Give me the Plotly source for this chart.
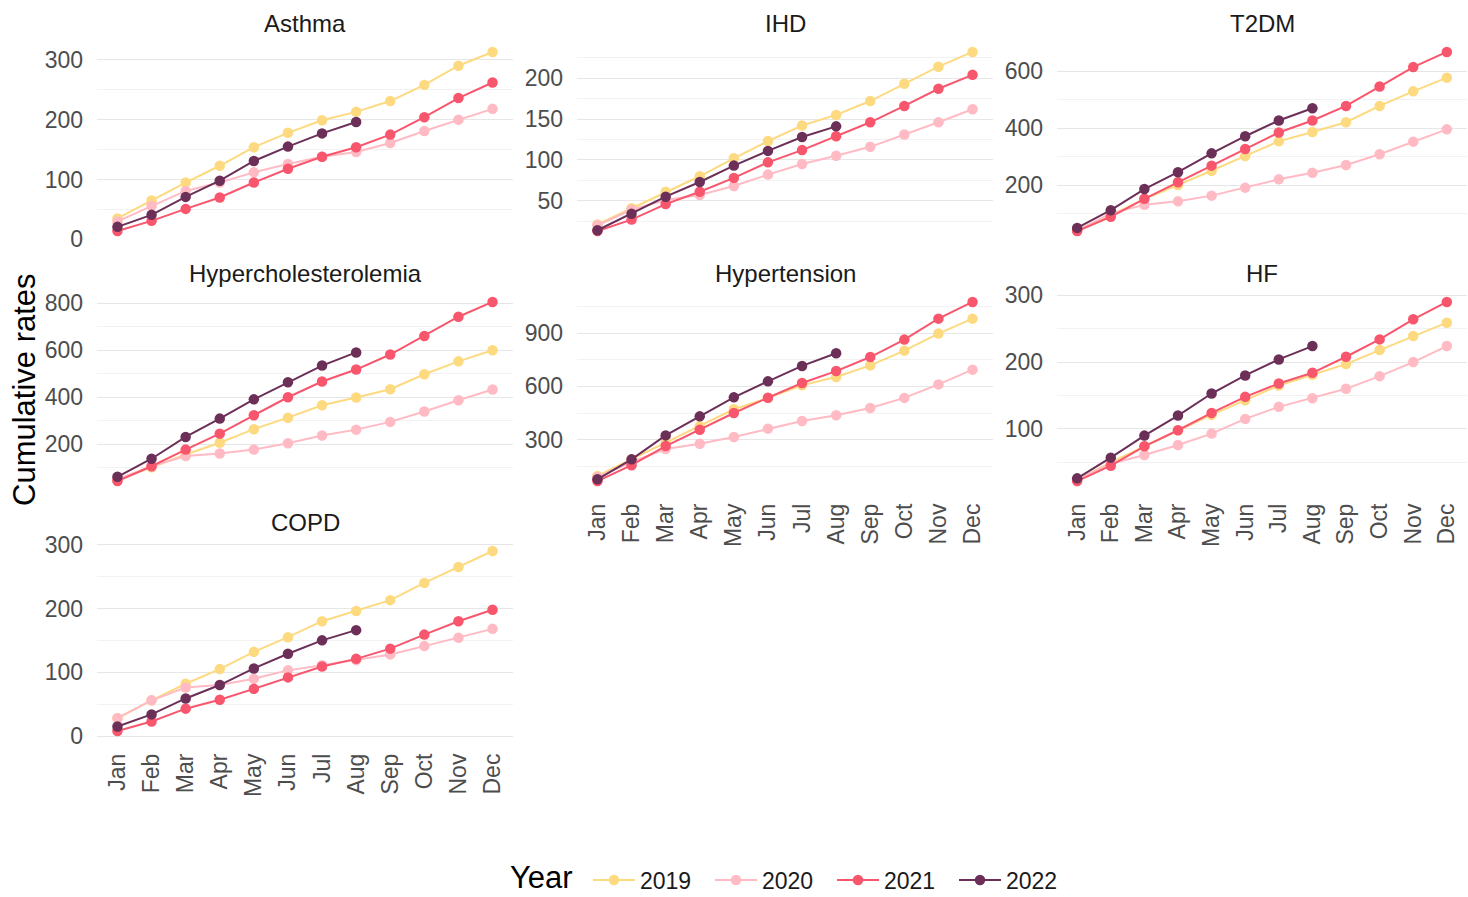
import plotly.graph_objects as go

months = ["Jan", "Feb", "Mar", "Apr", "May", "Jun", "Jul", "Aug", "Sep", "Oct", "Nov", "Dec"]
years = ["2019", "2020", "2021", "2022"]
diseases = ["Asthma", "IHD", "T2DM", "Hypercholesterolemia", "Hypertension", "HF", "COPD"]

asthma_2019 = [35, 65, 95, 123, 154, 178, 199, 213, 231, 258, 290, 313]
asthma_2020 = [30, 56, 81, 95, 112, 126, 138, 146, 161, 181, 200, 218]
asthma_2021 = [14, 31, 51, 70, 95, 118, 138, 154, 175, 204, 236, 262]
asthma_2022 = [21, 41, 71, 98, 131, 155, 177, 196]

ihd_2019 = [21, 41, 61, 80, 102, 123, 142, 155, 172, 193, 214, 232]
ihd_2020 = [20, 39, 51, 57, 68, 82, 95, 105, 116, 131, 146, 162]
ihd_2021 = [13, 27, 46, 61, 78, 97, 112, 129, 146, 166, 187, 204]
ihd_2022 = [14, 34, 55, 73, 93, 111, 128, 141]

t2dm_2019 = [43, 96, 152, 201, 251, 303, 354, 387, 421, 478, 529, 577]
t2dm_2020 = [41, 102, 132, 144, 164, 192, 221, 244, 271, 309, 353, 396]
t2dm_2021 = [40, 90, 153, 211, 269, 327, 385, 427, 478, 546, 614, 667]
t2dm_2022 = [51, 113, 187, 246, 312, 372, 427, 470]

hchol_2019 = [47, 102, 156, 206, 264, 313, 366, 399, 434, 498, 553, 600]
hchol_2020 = [51, 106, 150, 160, 177, 204, 237, 262, 295, 339, 387, 433]
hchol_2021 = [43, 106, 177, 245, 323, 400, 467, 518, 582, 661, 743, 806]
hchol_2022 = [61, 138, 231, 309, 391, 464, 535, 591]

htn_2019 = [96, 189, 281, 375, 471, 535, 606, 653, 718, 801, 897, 981]
htn_2020 = [90, 174, 247, 277, 315, 362, 405, 437, 478, 535, 611, 694]
htn_2021 = [67, 156, 264, 356, 450, 536, 619, 686, 765, 863, 981, 1075]
htn_2022 = [77, 189, 324, 431, 538, 628, 715, 786]

hf_2019 = [24, 50, 74, 98, 121, 143, 165, 181, 197, 218, 239, 259]
hf_2020 = [24, 48, 61, 76, 93, 115, 133, 146, 160, 179, 200, 224]
hf_2021 = [22, 45, 74, 98, 124, 148, 168, 184, 208, 234, 264, 290]
hf_2022 = [26, 57, 90, 120, 153, 180, 204, 224]

copd_2019 = [28, 56, 82, 105, 132, 155, 180, 196, 213, 240, 265, 290]
copd_2020 = [28, 56, 76, 80, 90, 103, 111, 119, 128, 141, 154, 168]
copd_2021 = [8, 23, 43, 57, 74, 92, 109, 121, 137, 159, 180, 198]
copd_2022 = [15, 34, 59, 80, 106, 129, 150, 166]

series = {
    "Asthma": [asthma_2019, asthma_2020, asthma_2021, asthma_2022],
    "IHD": [ihd_2019, ihd_2020, ihd_2021, ihd_2022],
    "T2DM": [t2dm_2019, t2dm_2020, t2dm_2021, t2dm_2022],
    "Hypercholesterolemia": [hchol_2019, hchol_2020, hchol_2021, hchol_2022],
    "Hypertension": [htn_2019, htn_2020, htn_2021, htn_2022],
    "HF": [hf_2019, hf_2020, hf_2021, hf_2022],
    "COPD": [copd_2019, copd_2020, copd_2021, copd_2022],
}

# ---- style ----
W, H = 1468, 897
colors = ["#FDDA80", "#FFBAC4", "#F8566D", "#6B2F58"]
dticks = {"Asthma": 100, "IHD": 50, "T2DM": 200, "Hypercholesterolemia": 200,
          "Hypertension": 300, "HF": 100, "COPD": 100}
col_px = [(97, 513), (577, 993), (1057, 1467)]
row_px = [(43, 240), (293, 490), (542, 740)]
strip_y = [23, 273, 522]
FONT = "Liberation Sans, Arial, sans-serif"
TICK_SIZE = 23

fig = go.Figure()
layout_axes = {}
annotations = []
bottom_panels = {"Hypertension", "HF", "COPD"}

for i, d in enumerate(diseases):
    r, c = divmod(i, 3)
    ax = "" if i == 0 else str(i + 1)
    x0, x1 = col_px[c]
    y0, y1 = row_px[r]
    vals = [v for s in series[d] for v in s]
    lo, hi = min(vals), max(vals)
    pad = 0.05 * (hi - lo)
    for k, yr in enumerate(years):
        ys = series[d][k]
        fig.add_trace(go.Scatter(
            x=list(range(len(ys))), y=ys, mode="lines+markers", name=yr,
            legendgroup=yr, showlegend=(i == 0),
            line=dict(color=colors[k], width=2),
            marker=dict(color=colors[k], size=10.5),
            xaxis="x" + ax, yaxis="y" + ax,
        ))
    layout_axes["xaxis" + ax] = dict(
        domain=[x0 / W, x1 / W], anchor="y" + ax, range=[-0.6, 11.6],
        tickvals=list(range(12)), ticktext=months, tickangle=-90,
        showticklabels=d in bottom_panels, showgrid=False, zeroline=False,
        showline=False, ticks="", ticklabelstandoff=8, automargin=False,
        tickfont=dict(size=TICK_SIZE, color="#4D4D4D", family=FONT),
    )
    layout_axes["yaxis" + ax] = dict(
        domain=[1 - y1 / H, 1 - y0 / H], anchor="x" + ax,
        range=[lo - pad, hi + pad], dtick=dticks[d], tick0=0,
        showgrid=True, gridcolor="#E6E6E6", gridwidth=1.3, zeroline=False,
        showline=False, ticks="", ticklabelstandoff=13, automargin=False,
        minor=dict(dtick=dticks[d] / 2, tick0=0, showgrid=True,
                   gridcolor="#F2F2F2", gridwidth=0.9),
        tickfont=dict(size=TICK_SIZE, color="#4D4D4D", family=FONT),
    )
    annotations.append(dict(
        text=d, x=(x0 + x1) / 2 / W, y=1 - strip_y[r] / H, xref="paper", yref="paper",
        xanchor="center", yanchor="middle", showarrow=False,
        font=dict(size=24, color="#1A1A1A", family=FONT),
    ))

annotations.append(dict(
    text="Cumulative rates", x=25 / W, y=1 - 390 / H, xref="paper", yref="paper",
    xanchor="center", yanchor="middle", textangle=-90, showarrow=False,
    font=dict(size=31, color="#000000", family=FONT),
))
annotations.append(dict(
    text="Year", x=574 / W, y=1 - 877 / H, xref="paper", yref="paper",
    xanchor="right", yanchor="middle", showarrow=False, borderpad=0,
    font=dict(size=31, color="#000000", family=FONT),
))

fig.update_layout(
    width=W, height=H, margin=dict(l=0, r=0, t=0, b=0, autoexpand=False),
    paper_bgcolor="white", plot_bgcolor="white",
    font=dict(family=FONT),
    annotations=annotations,
    legend=dict(
        orientation="h", x=588 / W, xanchor="left", y=1 - 880 / H, yanchor="middle",
        font=dict(size=23, color="#1A1A1A", family=FONT),
        itemwidth=42, entrywidth=65, entrywidthmode="pixels",
        bgcolor="rgba(0,0,0,0)",
    ),
    **layout_axes,
)

fig.write_html("out.html", config={"displayModeBar": False},
               post_script="document.body.style.margin='0';")
